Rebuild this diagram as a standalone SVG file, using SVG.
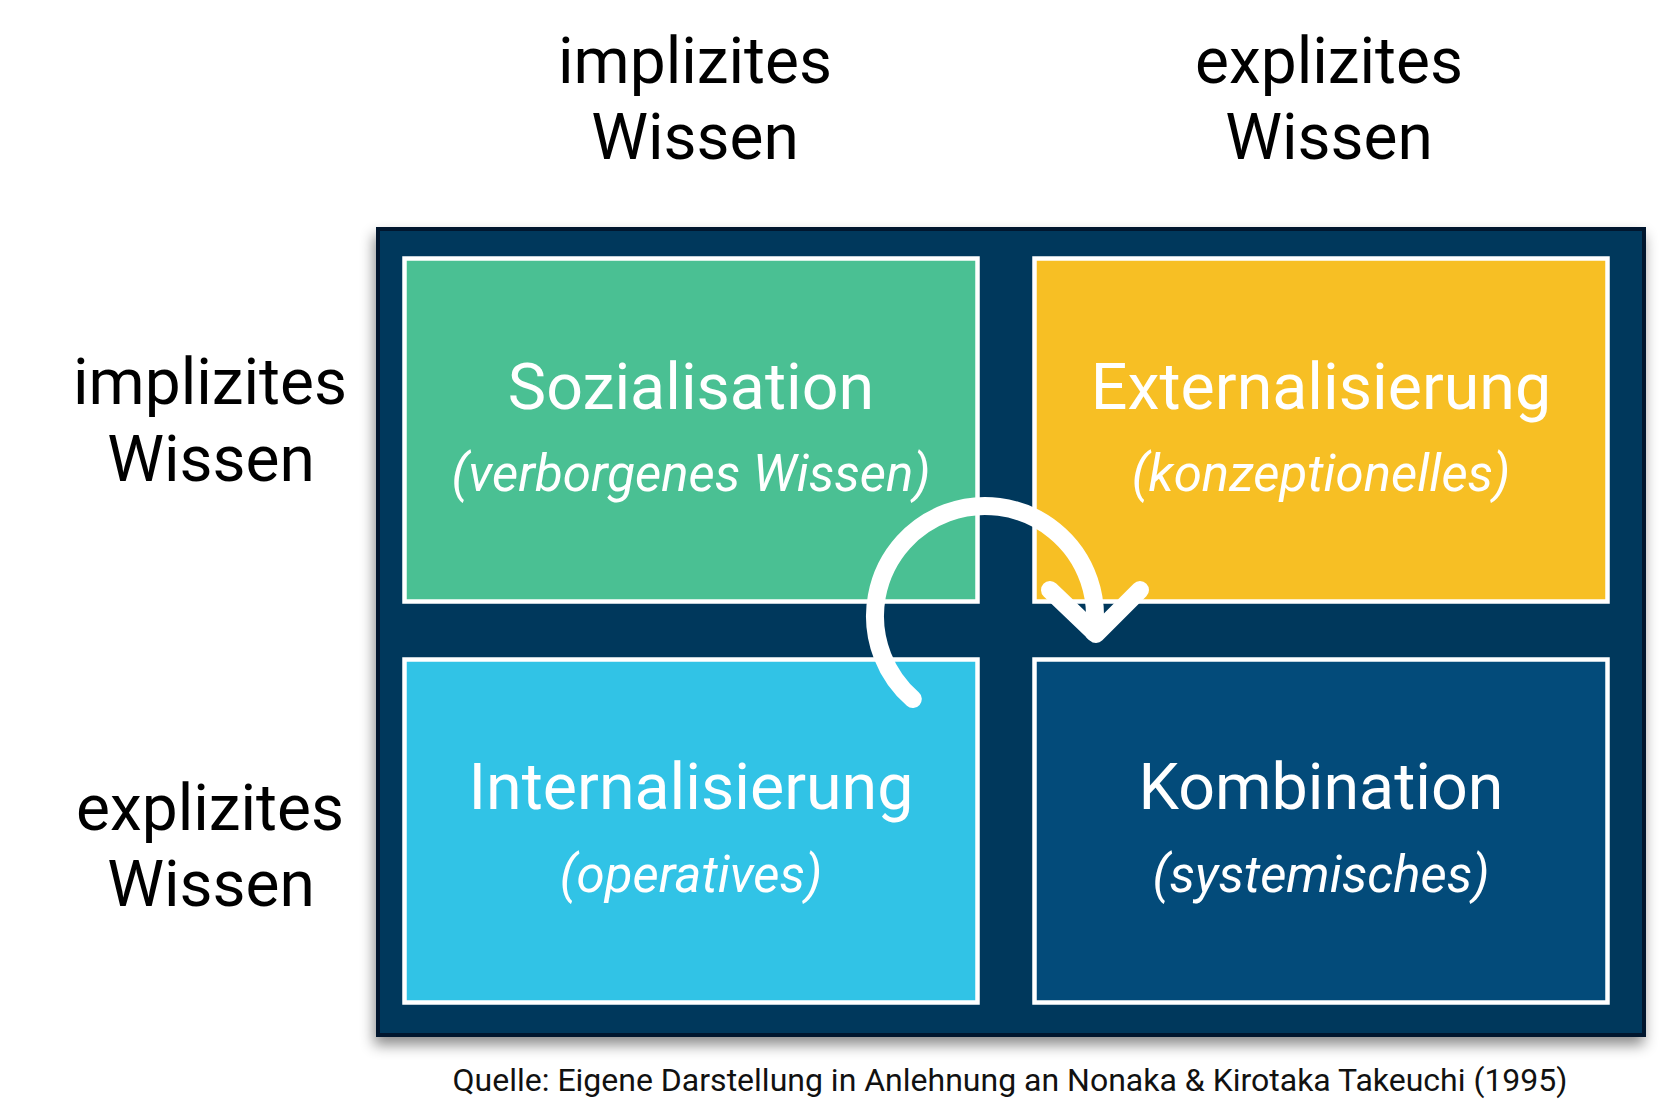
<svg xmlns="http://www.w3.org/2000/svg" width="1665" height="1119" viewBox="0 0 1665 1119">
<defs>
<filter id="sh" x="-5%" y="-5%" width="110%" height="112%">
<feDropShadow dx="-2" dy="8" stdDeviation="7" flood-color="#000" flood-opacity="0.45"/>
</filter>
</defs>
<style>
.axis{font-family:Roboto,"Liberation Sans",sans-serif;font-size:64px;fill:#000;text-anchor:middle}
.title{font-family:Roboto,"Liberation Sans",sans-serif;font-size:64.5px;fill:#fff;text-anchor:middle}
.sub{font-family:Roboto,"Liberation Sans",sans-serif;font-size:51px;font-style:italic;fill:#fff;text-anchor:middle}
.box{stroke:#fff;stroke-width:4.5}
.src{font-family:Roboto,"Liberation Sans",sans-serif;font-size:32px;fill:#111;text-anchor:middle}
.arr{fill:none;stroke:#fff;stroke-width:18;stroke-linecap:round;stroke-linejoin:round}
</style>
<rect width="1665" height="1119" fill="#fff"/>
<g id="axis-labels">
<text class="axis" x="695" y="83">implizites</text>
<text class="axis" x="695" y="159">Wissen</text>
<text class="axis" x="1329" y="83">explizites</text>
<text class="axis" x="1329" y="159">Wissen</text>
<text class="axis" x="210" y="404">implizites</text>
<text class="axis" x="211" y="481">Wissen</text>
<text class="axis" x="210" y="830">explizites</text>
<text class="axis" x="211" y="906">Wissen</text>
</g>
<g id="container">
<rect x="378" y="229" width="1266" height="806" fill="#03395c" stroke="#01192f" stroke-width="4" filter="url(#sh)"/>
</g>
<g id="sozialisation">
<rect class="box" x="404.5" y="258.5" width="573" height="343" fill="#4ac093"/>
<text class="title" x="691" y="409">Sozialisation</text>
<text class="sub" x="691" y="491">(verborgenes Wissen)</text>
</g>
<g id="externalisierung">
<rect class="box" x="1034.5" y="258.5" width="573" height="343" fill="#f7bf24"/>
<text class="title" x="1321" y="409">Externalisierung</text>
<text class="sub" x="1321" y="491">(konzeptionelles)</text>
</g>
<g id="internalisierung">
<rect class="box" x="404.5" y="659.5" width="573" height="343" fill="#31c3e6"/>
<text class="title" x="691" y="809">Internalisierung</text>
<text class="sub" x="691" y="892">(operatives)</text>
</g>
<g id="kombination">
<rect class="box" x="1034.5" y="659.5" width="573" height="343" fill="#034b7a"/>
<text class="title" x="1321" y="809">Kombination</text>
<text class="sub" x="1321" y="892">(systemisches)</text>
</g>
<g id="connectors">
<path class="arr" d="M912.8,699 A110,110 0 1 1 1093.8,632.3"/>
<path class="arr" d="M1050,590 L1096,634 L1140,590"/>
</g>
<g id="source">
<text class="src" x="1010" y="1091">Quelle: Eigene Darstellung in Anlehnung an Nonaka &amp; Kirotaka Takeuchi (1995)</text>
</g>
</svg>
